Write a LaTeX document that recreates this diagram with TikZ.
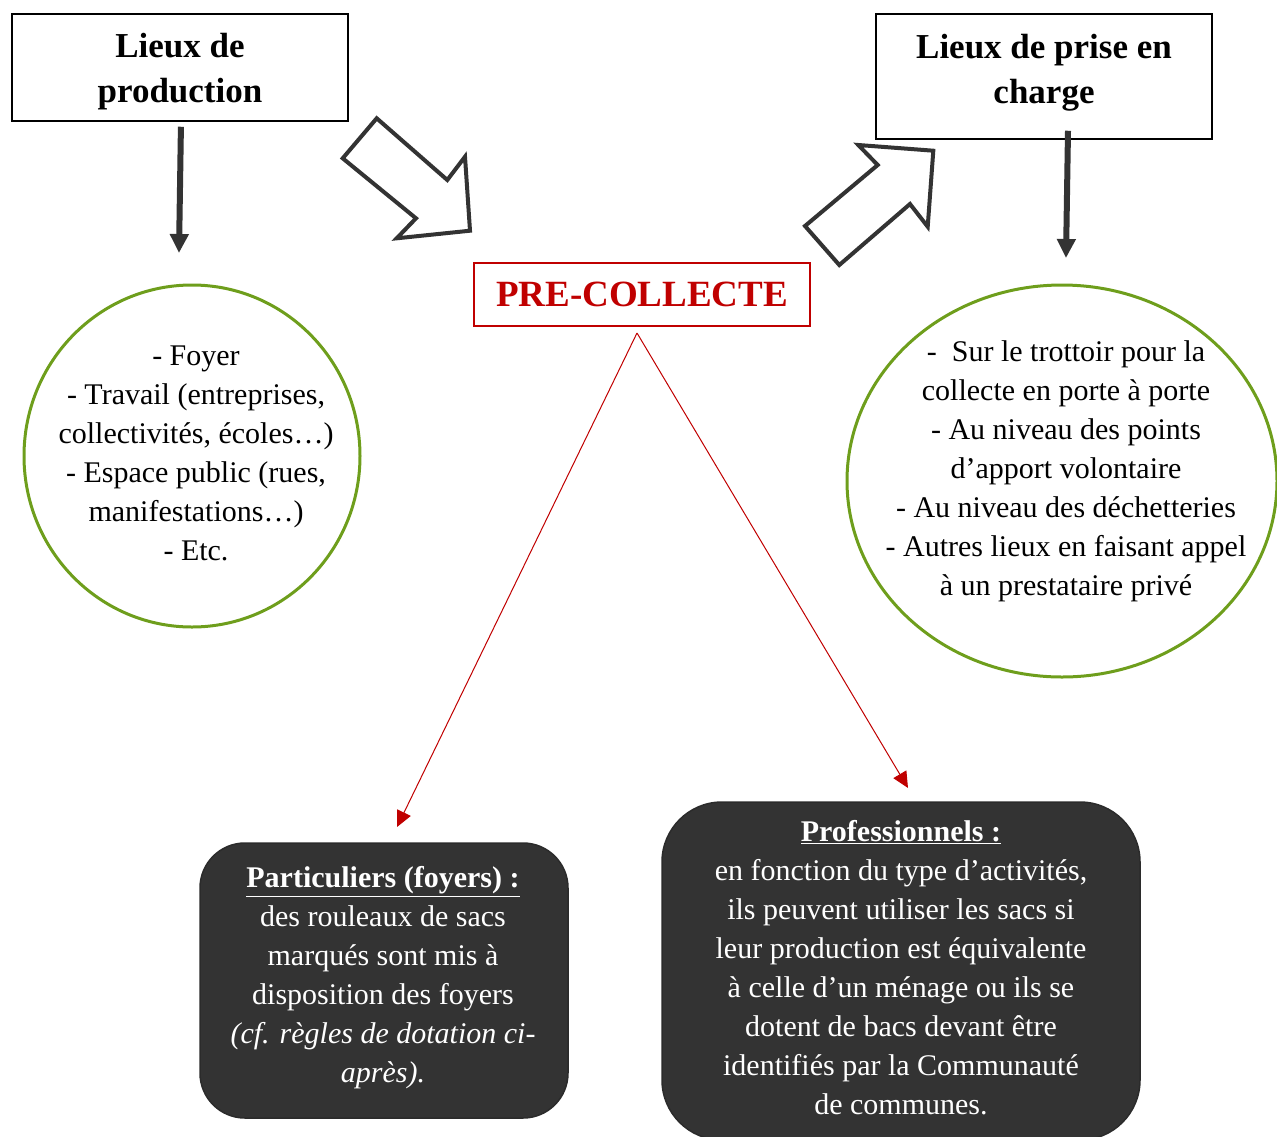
\documentclass[tikz,border=0pt]{standalone}
\usepackage{fontspec}
\setmainfont{Liberation Serif}
\usetikzlibrary{arrows.meta,shapes.geometric,calc}

\definecolor{precol}{HTML}{C00000}
\definecolor{leafgreen}{HTML}{6E9E1C}
\definecolor{slate}{HTML}{333333}

\tikzset{
  titlebox/.style={draw=black,line width=1.5pt,minimum width=336pt},
  titletext/.style={align=center,font=\fontsize{35}{45}\selectfont\bfseries},
  bodytext/.style={align=center,font=\fontsize{30}{39}\selectfont},
  bubble/.style={ellipse,draw=leafgreen,line width=3pt,inner sep=0pt},
  darkbox/.style={draw=slate!85!black,line width=1.5pt,fill=slate,text=white,
    bodytext},
  heavyarrow/.style={draw=slate,line width=6pt,-{Triangle[width=18pt,length=19pt]}},
  blockarrow/.style={draw=slate,line width=4pt,line join=miter},
  redarrow/.style={draw=precol,line width=1pt,-{Triangle[width=15pt,length=16pt]}}
}

\begin{document}
\begin{tikzpicture}[x=1pt,y=-1pt]
\useasboundingbox (0,0) rectangle (1277,1136);
% the two title boxes
\node[titlebox,minimum height=107pt] (prod) at (180,67.5) {};
\node[titletext] (prodTxt) at (180,72) {Lieux de\\production};
\node[titlebox,minimum height=125pt] (prise) at (1044,76.5) {};
\node[titletext] (priseTxt) at (1044,72.5) {Lieux de prise en\\charge};
% centre box
\node[draw=precol,line width=1.5pt,minimum width=336pt,minimum height=63pt,
  text=precol,font=\fontsize{37}{40}\selectfont\bfseries] (pre) at (642,294.5) {PRE-COLLECTE};
% the green bubbles
\node[bubble,minimum width=336pt,minimum height=342pt] (lieux) at (192,456) {};
\node[bodytext] (lieuxTxt) at (196,453)
  {- Foyer\\- Travail (entreprises,\\collectivités, écoles…)\\- Espace public (rues,\\manifestations…)\\- Etc.};
\node[bubble,minimum width=430pt,minimum height=392pt] (apport) at (1062,481) {};
\node[bodytext] (apportTxt) at (1066,471)
  {-\ \ Sur le trottoir pour la\\collecte en porte à porte\\- Au niveau des points\\d’apport volontaire\\- Au niveau des déchetteries\\- Autres lieux en faisant appel\\à un prestataire privé};
% the dark boxes
\node[darkbox,rounded corners=45pt,minimum width=368pt,minimum height=275pt] (part) at (384,980.5) {};
\node[bodytext,text=white] (partTxt) at (383,978)
  {\underline{\textbf{Particuliers (foyers) :}}\\des rouleaux de sacs\\marqués sont mis à\\disposition des foyers\\\textit{(cf. règles de dotation ci-}\\\textit{après).}};
\node[darkbox,rounded corners=60pt,minimum width=478pt,minimum height=338pt] (pro) at (901,971) {};
\node[bodytext,text=white] (proTxt) at (901,968)
  {\underline{\textbf{Professionnels :}}\\en fonction du type d’activités,\\ils peuvent utiliser les sacs si\\leur production est équivalente\\à celle d’un ménage ou ils se\\dotent de bacs devant être\\identifiés par la Communauté\\de communes.};
% the arrows
\coordinate (prodTip) at (179,253);
\coordinate (priseTip) at (1066,258);
\draw[heavyarrow,shorten <=5pt] ($(prod.south)+(1,0)$) -- (prodTip);
\draw[heavyarrow] ($(prise.south)+(24,-9)$) -- (priseTip);
\draw[blockarrow] (376.7,118.3) -- (447.3,180) -- (465,156.7) -- (470,230.7)
  -- (396.7,238.3) -- (416,218.3) -- (342.7,158.3) -- cycle;
\draw[blockarrow] (858.3,145) -- (933.3,150.7) -- (927.7,226.7) -- (910,204)
  -- (839.3,265) -- (805,226) -- (877.7,165) -- cycle;
\coordinate (split) at (637,333);
\coordinate (partTip) at (397,827);
\coordinate (proTip) at (908,788);
\draw[redarrow] (split) -- (partTip);
\draw[redarrow] (split) -- (proTip);
\end{tikzpicture}
\end{document}
